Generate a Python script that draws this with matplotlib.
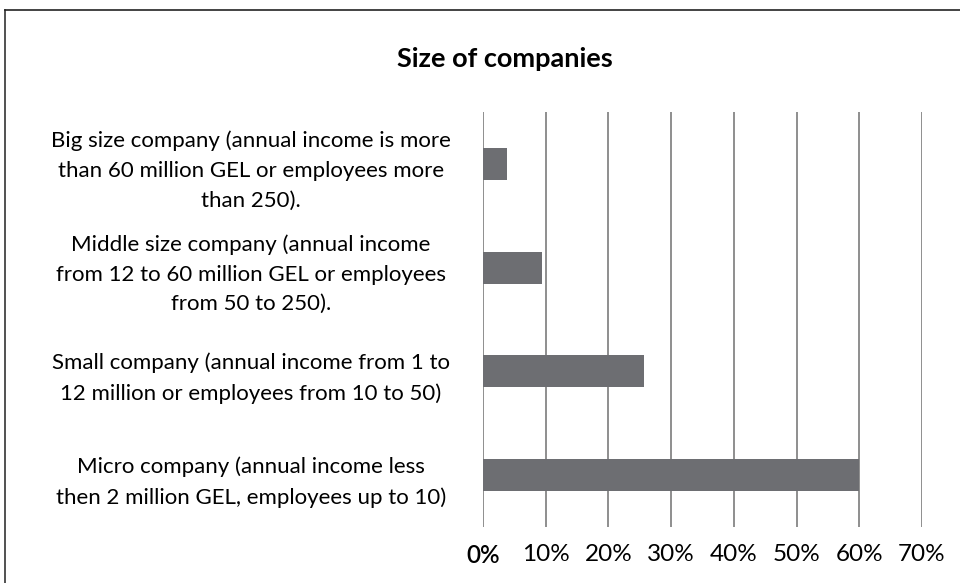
import matplotlib.pyplot as plt
from matplotlib.lines import Line2D

plt.rcParams['font.family'] = ['Lato', 'DejaVu Sans']

categories = [
    'Micro company (annual income less\nthen 2 million GEL, employees up to 10)',
    'Small company (annual income from 1 to\n12 million or employees from 10 to 50)',
    'Middle size company (annual income\nfrom 12 to 60 million GEL or employees\nfrom 50 to 250).',
    'Big size company (annual income is more\nthan 60 million GEL or employees more\nthan 250).',
]
shares = [0.60, 0.256, 0.094, 0.038]
ticks = [0, 0.1, 0.2, 0.3, 0.4, 0.5, 0.6, 0.7]
tick_labels = ['0%', '10%', '20%', '30%', '40%', '50%', '60%', '70%']

fig = plt.figure(figsize=(9.6, 5.83), dpi=100)
ax = fig.add_axes([483 / 960, 1 - 527 / 583, (922 - 483) / 960, (527 - 112) / 583])

ax.barh(range(len(categories)), shares, height=0.31, color='#6d6e72', zorder=3)
ax.set_xlim(0, 0.7)
ax.set_ylim(-0.5, len(categories) - 0.5)

ax.set_xticks(ticks, tick_labels)
ax.xaxis.grid(True, color='#707070', lw=1.1)
ax.set_axisbelow(True)
for s in ax.spines.values():
    s.set_visible(False)

ax.set_yticks(range(len(categories)), categories)
ax.tick_params(axis='y', length=0, pad=167, labelsize=16)
ax.tick_params(axis='x', length=0, pad=12, labelsize=17.5)
for lab in ax.get_yticklabels():
    lab.set_ha('center')
    lab.set_multialignment('center')
    lab.set_linespacing(1.6)
ax.get_xticklabels()[0].set_fontweight('semibold')

fig.text(505 / 960, 1 - 59 / 583, 'Size of companies', ha='center', va='center',
         fontsize=19.5, fontweight='bold')

# frame around the chart (only left and top edges are visible)
fig.add_artist(Line2D([5 / 960, 5 / 960], [0, 1 - 10 / 583], transform=fig.transFigure,
                      color='#333333', lw=1.2))
fig.add_artist(Line2D([5 / 960, 1], [1 - 10 / 583, 1 - 10 / 583], transform=fig.transFigure,
                      color='#222222', lw=1.2))

fig.savefig('out.png', dpi=100)
